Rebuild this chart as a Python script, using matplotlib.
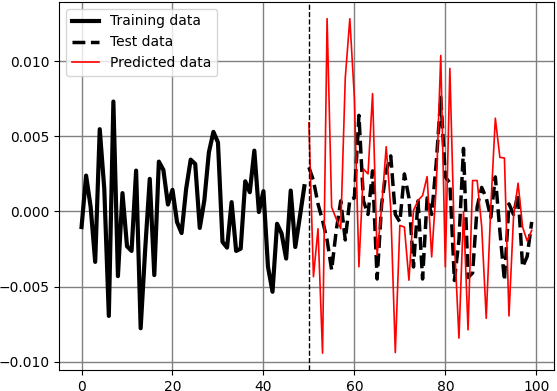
import numpy as np
import matplotlib
matplotlib.use("Agg")
import matplotlib.pyplot as plt

train_x = list(range(0, 50))
train_y = [-0.00104, 0.00239, 0.0003, -0.00336, 0.00548, 0.0015, -0.00696, 0.00732, -0.00431, 0.00122,
           -0.00232, -0.00263, 0.00272, -0.00778, -0.0025, 0.00217, -0.00424, 0.00332, 0.00276, 0.00046,
           0.00144, -0.00071, -0.00144, 0.0015, 0.00345, 0.00316, -0.0011, 0.00073, 0.00393, 0.0053,
           0.0046, -0.00203, -0.00241, 0.00062, -0.00263, -0.00248, 0.00201, 0.00128, 0.00405, -0.00004,
           0.00135, -0.00369, -0.00535, -0.00082, -0.00148, -0.00314, 0.00139, -0.00237, -0.00038, 0.00168]

test_x = list(range(50, 100))
test_y = [0.00294, 0.00206, 0.0005, -0.0006, -0.0019, -0.0039, -0.0013, 0.0007, -0.0019, 0.0008,
          0.0009, 0.0064, 0.0007, -0.0002, 0.0027, -0.0045, 0.0005, 0.0027, 0.0037, -0.0002,
          -0.0007, 0.0025, 0.0009, -0.0037, 0.0007, -0.0045, 0.0009, -0.0002, 0.0032, 0.0076,
          0.0023, 0.0019, -0.0046, -0.0019, 0.0042, -0.0044, -0.0041, 0.0003, 0.0016, 0.0009,
          -0.0004, 0.0023, -0.0013, -0.0046, 0.0005, -0.0002, 0.0012, -0.0037, -0.0030, -0.0007]

pred_y = [0.0059, -0.00435, -0.00115, -0.00944, 0.01284, 0.00029, -0.00049, -0.00115, 0.0089, 0.01284,
          0.00758, -0.00369, 0.00283, 0.0025, 0.00785, -0.00292, 0.0003, 0.00431, 0.0002, -0.0094,
          -0.00093, -0.00104, -0.00458, 0.00007, 0.00073, 0.00106, 0.00232, -0.00303, 0.0016, 0.01039,
          -0.00369, 0.00953, -0.002, -0.00844, 0.0, -0.00789, 0.00206, 0.00206, -0.001, -0.00712,
          0.00029, 0.00621, 0.0036, 0.00356, -0.00696, -0.00038, 0.00188, -0.00104, -0.00197, -0.00126]

split_x = 50

fig = plt.figure(figsize=(5.57, 3.91), dpi=100)
ax = fig.add_axes([0.106, 0.054, 0.889, 0.941])
ax.plot(train_x, train_y, color='black', lw=3, label='Training data')
ax.plot(test_x, test_y, color='black', lw=2.5, ls='--', label='Test data')
ax.plot(test_x, pred_y, color='red', lw=1.2, label='Predicted data')
ax.axvline(split_x, color='black', ls='--', lw=1)
ax.grid(True, color='gray', lw=1)
ax.legend(loc='upper left')
fig.savefig('out.png', dpi=100)
